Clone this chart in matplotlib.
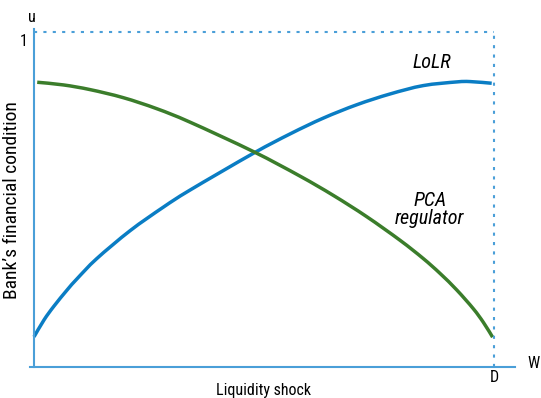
import matplotlib
matplotlib.use("Agg")
import matplotlib.pyplot as plt
from matplotlib.font_manager import fontManager
from matplotlib.path import Path
from matplotlib.patches import PathPatch

names = {f.name for f in fontManager.ttflist}
fam = "DejaVu Sans"
stretch = "normal"
for cand in ["Liberation Sans Narrow", "Roboto Condensed", "Open Sans Condensed", "DejaVu Sans Condensed"]:
    if cand in names:
        fam = cand
        break
else:
    stretch = "condensed"

# data (x: liquidity shock from 0 to D=1, y: bank's financial condition 0..1)
lolr_x = [0.000, 0.022, 0.043, 0.072, 0.094, 0.136, 0.209, 0.281, 0.339, 0.477,
          0.557, 0.629, 0.702, 0.774, 0.846, 0.919, 0.948, 0.995]
lolr_y = [0.090, 0.141, 0.181, 0.230, 0.264, 0.323, 0.407, 0.477, 0.528, 0.638,
          0.696, 0.743, 0.783, 0.815, 0.840, 0.851, 0.852, 0.847]
pca_x = [0.007, 0.064, 0.122, 0.194, 0.267, 0.339, 0.477, 0.578, 0.651, 0.723,
         0.796, 0.846, 0.883, 0.919, 0.955, 0.977, 0.997]
pca_y = [0.850, 0.842, 0.828, 0.804, 0.771, 0.731, 0.643, 0.570, 0.512, 0.449,
         0.378, 0.324, 0.279, 0.230, 0.174, 0.133, 0.089]

BLUE = "#0a7dc4"
GREEN = "#3b7d2b"
AXC = "#4a9fd8"


def smooth_path(xs, ys):
    """Catmull-Rom spline through the points, drawn as cubic Bezier segments."""
    pts = list(zip(xs, ys))
    verts = [pts[0]]
    codes = [Path.MOVETO]
    n = len(pts)
    for i in range(n - 1):
        p0 = pts[i - 1] if i > 0 else pts[i]
        p1 = pts[i]
        p2 = pts[i + 1]
        p3 = pts[i + 2] if i + 2 < n else pts[i + 1]
        c1 = (p1[0] + (p2[0] - p0[0]) / 6, p1[1] + (p2[1] - p0[1]) / 6)
        c2 = (p2[0] - (p3[0] - p1[0]) / 6, p2[1] - (p3[1] - p1[1]) / 6)
        verts += [c1, c2, p2]
        codes += [Path.CURVE4] * 3
    return Path(verts, codes)


W, H = 541, 398
fig = plt.figure(figsize=(W / 100, H / 100), dpi=100)
x0, x1 = 30, 515
y0, y1 = 367, 29
ax = fig.add_axes([x0 / W, (H - y0) / H, (x1 - x0) / W, (y0 - y1) / H])
ax.set_xlim((30 - 34) / 460, (515 - 34) / 460)
ax.set_ylim(0, (367 - 29) / 335)
for s in ax.spines.values():
    s.set_visible(False)
ax.set_xticks([])
ax.set_yticks([])
ax.patch.set_alpha(0)

# axes lines
ax.axhline(0, color=AXC, lw=1.5, clip_on=False)
ax.axvline(0, color=AXC, lw=1.5, clip_on=False)
# dotted reference lines
ax.plot([0, 1], [1, 1], ls=(0, (1.5, 3)), color=AXC, lw=1.5)
ax.plot([1, 1], [0, 1], ls=(0, (1.5, 3)), color=AXC, lw=1.5)

ax.add_patch(PathPatch(smooth_path(lolr_x, lolr_y), facecolor="none", edgecolor=BLUE,
                       lw=2.5, capstyle="butt"))
ax.add_patch(PathPatch(smooth_path(pca_x, pca_y), facecolor="none", edgecolor=GREEN,
                       lw=2.5, capstyle="butt"))

kw = dict(family=fam, stretch=stretch)
ax.text(0.864, 0.91, "LoLR", style="italic", fontsize=14.5, ha="center", va="center", **kw)
ax.text(0.862, 0.498, "PCA", style="italic", fontsize=14.5, ha="center", va="center", **kw)
ax.text(0.859, 0.442, "regulator", style="italic", fontsize=14.5, ha="center", va="center", **kw)

fs = 11.5
fig.text(32 / W, 1 - 18 / H, "u", fontsize=fs, ha="center", va="center", **kw)
fig.text(24 / W, 1 - 42 / H, "1", fontsize=fs, ha="center", va="center", **kw)
fig.text(494 / W, 1 - 378 / H, "D", fontsize=fs, ha="center", va="center", **kw)
fig.text(534 / W, 1 - 364 / H, "W", fontsize=fs, ha="center", va="center", **kw)
fig.text(264 / W, 1 - 390 / H, "Liquidity shock", fontsize=fs, ha="center", va="center", **kw)
fig.text(12 / W, 1 - 200 / H, "Bank\u2019s financial condition", fontsize=14,
         ha="center", va="center", rotation=90, **kw)

fig.savefig("out.png", dpi=100)
